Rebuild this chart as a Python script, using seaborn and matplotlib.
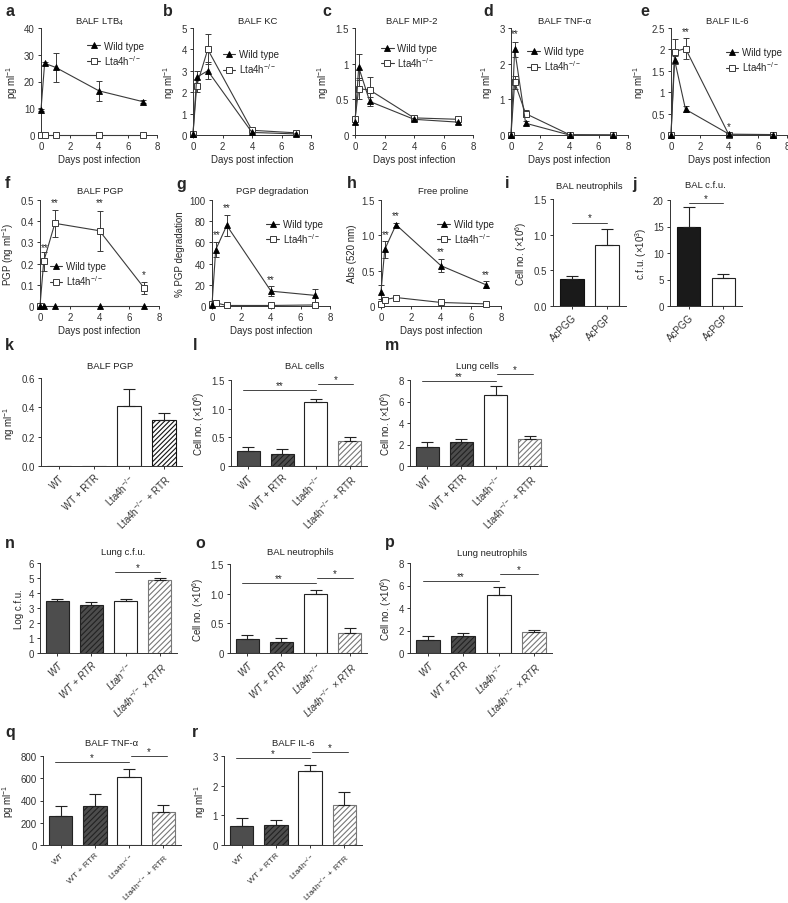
import matplotlib

matplotlib.use("Agg")
import matplotlib.pyplot as plt
import numpy as np
import pandas as pd
import seaborn as sns

W, H = 788, 904

# ---- time course data (days post infection) ----
days = [0, 0.25, 1, 4, 7]

ltb4_wt = [9.5, 26.8, 25.3, 16.5, 12.5]
ltb4_wt_err = [0.4, 0.5, 5.3, 3.8, 0.4]
ltb4_ko = [0, 0, 0, 0, 0]
ltb4_ko_err = [0, 0, 0, 0, 0]

kc_wt = [0.05, 2.7, 3.0, 0.12, 0.05]
kc_wt_err = [0.02, 0.3, 0.4, 0.05, 0.05]
kc_ko = [0.05, 2.3, 4.0, 0.22, 0.1]
kc_ko_err = [0.02, 0.3, 0.7, 0.05, 0.05]

mip2_wt = [0.18, 0.95, 0.47, 0.22, 0.18]
mip2_wt_err = [0.02, 0.18, 0.06, 0.02, 0.02]
mip2_ko = [0.22, 0.65, 0.63, 0.24, 0.22]
mip2_ko_err = [0.02, 0.15, 0.18, 0.02, 0.02]

tnf_wt = [0.0, 2.4, 0.33, 0.0, 0.0]
tnf_wt_err = [0.01, 0.2, 0.05, 0.01, 0.01]
tnf_ko = [0.0, 1.48, 0.6, 0.01, 0.0]
tnf_ko_err = [0.01, 0.18, 0.1, 0.01, 0.01]

il6_wt = [0.0, 1.75, 0.6, 0.02, 0.01]
il6_wt_err = [0.01, 0.1, 0.07, 0.01, 0.01]
il6_ko = [0.0, 1.95, 2.02, 0.0, 0.01]
il6_ko_err = [0.01, 0.3, 0.25, 0.01, 0.01]

pgp_wt = [0, 0, 0, 0, 0]
pgp_wt_err = [0, 0, 0, 0, 0]
pgp_ko = [0, 0.21, 0.39, 0.355, 0.085]
pgp_ko_err = [0, 0.045, 0.065, 0.095, 0.03]

deg_wt = [1, 53, 76, 14, 10]
deg_wt_err = [0.5, 7, 10, 5, 6]
deg_ko = [2, 3, 0.5, 0.5, 1]
deg_ko_err = [1, 1, 0.5, 0.5, 2]

pro_wt = [0.2, 0.8, 1.15, 0.57, 0.3]
pro_wt_err = [0.1, 0.12, 0.03, 0.09, 0.05]
pro_ko = [0.03, 0.09, 0.12, 0.05, 0.03]
pro_ko_err = [0.02, 0.02, 0.02, 0.02, 0.02]

# ---- peptide bar data ----
pep_groups = ["AcPGG", "AcPGP"]
pep_neut = [0.38, 0.85]
pep_neut_err = [0.04, 0.23]
pep_cfu = [15.0, 5.3]
pep_cfu_err = [3.7, 0.8]

# ---- RTR bar data ----
rtr_keys = ["WT", "WT+RTR", "KO", "KO+RTR"]
rtr_labels = ["WT", "WT + RTR", "Lta4h$^{-/-}$", "Lta4h$^{-/-}$ + RTR"]
rtr_labels_n = ["WT", "WT + RTR", "Ltah$^{-/-}$", "Lta4h$^{-/-}$ \u00d7 RTR"]
rtr_labels_p = ["WT", "WT + RTR", "Lta4h$^{-/-}$", "Lta4h$^{-/-}$ \u00d7 RTR"]

k_pgp = [0, 0, 0.41, 0.315]
k_pgp_err = [0, 0, 0.115, 0.045]
l_bal = [0.27, 0.21, 1.11, 0.43]
l_bal_err = [0.07, 0.09, 0.06, 0.08]
m_lung = [1.8, 2.2, 6.6, 2.55]
m_lung_err = [0.4, 0.3, 0.8, 0.25]
n_cfu = [3.48, 3.22, 3.5, 4.85]
n_cfu_err = [0.12, 0.15, 0.07, 0.13]
o_neut = [0.23, 0.18, 1.0, 0.33]
o_neut_err = [0.07, 0.08, 0.06, 0.09]
p_neut = [1.15, 1.5, 5.2, 1.85]
p_neut_err = [0.35, 0.3, 0.7, 0.2]
q_tnf = [265, 355, 610, 300]
q_tnf_err = [85, 105, 70, 60]
r_il6 = [0.65, 0.68, 2.48, 1.35]
r_il6_err = [0.25, 0.17, 0.2, 0.43]

LINE = "#3a3a3a"
DARK = "#4d4d4d"

sns.set_style("ticks")
plt.rcParams["font.family"] = ["Liberation Sans", "DejaVu Sans"]
plt.rcParams["mathtext.default"] = "regular"
plt.rcParams["hatch.linewidth"] = 0.8
plt.rcParams["axes.linewidth"] = 0.7
plt.rcParams["axes.edgecolor"] = "#333333"
plt.rcParams["xtick.major.width"] = 0.7
plt.rcParams["ytick.major.width"] = 0.7
plt.rcParams["xtick.major.size"] = 2.5
plt.rcParams["ytick.major.size"] = 2.5
plt.rcParams["xtick.major.pad"] = 2
plt.rcParams["ytick.major.pad"] = 2
plt.rcParams["xtick.color"] = "#333333"
plt.rcParams["ytick.color"] = "#333333"

fig = plt.figure(figsize=(W / 100, H / 100), dpi=100)


def rect(x0, y0, x1, y1):
    return [x0 / W, 1 - y1 / H, (x1 - x0) / W, (y1 - y0) / H]


def letter(x, y, s):
    fig.text(x / W, 1 - y / H, s, fontsize=11.5, fontweight="bold", va="center", ha="left")


def title(x, y, s, size=6.8):
    fig.text(x / W, 1 - y / H, s, fontsize=size, va="center", ha="center", color="#222222")


def style_axis(ax, ylim, yticks, yticklabels, ylabel):
    ax.set_ylim(*ylim)
    ax.set_yticks(yticks)
    ax.set_yticklabels(yticklabels, fontsize=7)
    ax.set_ylabel(ylabel, fontsize=7, labelpad=3)
    sns.despine(ax=ax)


def line_panel(box, ylabel, ylim, yticks, yticklabels, wt, wt_err, ko, ko_err, anchor, stars):
    ax = fig.add_axes(rect(*box))
    wt_df = pd.DataFrame({"day": days, "value": wt})
    ko_df = pd.DataFrame({"day": days, "value": ko})
    ax.errorbar(days, wt, yerr=wt_err, fmt="none", ecolor=LINE, elinewidth=0.7,
                capsize=2, capthick=0.7, clip_on=False, zorder=2)
    ax.errorbar(days, ko, yerr=ko_err, fmt="none", ecolor=LINE, elinewidth=0.7,
                capsize=2, capthick=0.7, clip_on=False, zorder=2)
    sns.lineplot(data=wt_df, x="day", y="value", ax=ax, color=LINE, lw=0.8,
                 marker="^", markersize=4.5, markerfacecolor="black",
                 markeredgecolor="black", markeredgewidth=0.6,
                 clip_on=False, zorder=4, label="Wild type")
    sns.lineplot(data=ko_df, x="day", y="value", ax=ax, color=LINE, lw=0.8,
                 marker="s", markersize=4, markerfacecolor="white",
                 markeredgecolor=LINE, markeredgewidth=0.7,
                 clip_on=False, zorder=3, label="Lta4h$^{-/-}$")
    ax.set_xlim(0, 8)
    ax.set_xticks([0, 2, 4, 6, 8])
    ax.set_xticklabels(["0", "2", "4", "6", "8"], fontsize=7)
    ax.set_xlabel("Days post infection", fontsize=7, labelpad=2)
    style_axis(ax, ylim, yticks, yticklabels, ylabel)
    ax.legend(loc="upper left", bbox_to_anchor=anchor, frameon=False, fontsize=7,
              handlelength=1.3, handletextpad=0.4, labelspacing=0.2,
              borderpad=0, borderaxespad=0)
    for x, y, s in stars:
        ax.text(x, y, s, ha="center", va="bottom", fontsize=7)
    return ax


def bar_panel(box, ylabel, ylim, yticks, yticklabels, keys, values, errs, styles,
              labels, xlim, width, brackets, italic=False, size=7):
    ax = fig.add_axes(rect(*box))
    palette = {k: st[0] for k, st in zip(keys, styles)}
    sns.barplot(x=keys, y=values, hue=keys, palette=palette, legend=False,
                width=width, errorbar=None, saturation=1, linewidth=0.8,
                edgecolor="#222222", ax=ax)
    for patch, st in zip(ax.patches, styles):
        patch.set_hatch(st[1])
        patch.set_edgecolor(st[2])
    idx = [i for i, e in enumerate(errs) if e > 0]
    ax.errorbar(idx, [values[i] for i in idx],
                yerr=[np.zeros(len(idx)), [errs[i] for i in idx]],
                fmt="none", ecolor="#222222", elinewidth=0.8, capsize=4, capthick=0.8)
    ax.set_xlim(*xlim)
    ax.set_xticks(range(len(keys)))
    ax.set_xticklabels(labels, rotation=45, ha="right", rotation_mode="anchor",
                       fontsize=size, fontstyle="italic" if italic else "normal")
    ax.set_xlabel("")
    style_axis(ax, ylim, yticks, yticklabels, ylabel)
    for x0, x1, y, s in brackets:
        ax.plot([x0, x1], [y, y], color="#444444", lw=0.7, clip_on=False)
        ax.text((x0 + x1) / 2, y, s, ha="center", va="bottom", fontsize=7)
    return ax


# ---- row 1 ----
line_panel((41, 29, 157, 136), "pg ml$^{-1}$", (0, 40), [0, 10, 20, 30, 40],
           ["0", "10", "20", "30", "40"], ltb4_wt, ltb4_wt_err, ltb4_ko, ltb4_ko_err,
           (0.4, 0.88), [])
line_panel((193, 29, 311, 136), "ng ml$^{-1}$", (0, 5), [0, 1, 2, 3, 4, 5],
           ["0", "1", "2", "3", "4", "5"], kc_wt, kc_wt_err, kc_ko, kc_ko_err,
           (0.25, 0.8), [])
line_panel((355, 29, 473, 136), "ng ml$^{-1}$", (0, 1.5), [0, 0.5, 1, 1.5],
           ["0", "0.5", "1", "1.5"], mip2_wt, mip2_wt_err, mip2_ko, mip2_ko_err,
           (0.22, 0.86), [])
line_panel((511, 29, 628, 136), "ng ml$^{-1}$", (0, 3), [0, 1, 2, 3],
           ["0", "1", "2", "3"], tnf_wt, tnf_wt_err, tnf_ko, tnf_ko_err,
           (0.14, 0.83), [(0.25, 2.72, "**")])
line_panel((671, 29, 787, 136), "ng ml$^{-1}$", (0, 2.5), [0, 0.5, 1, 1.5, 2, 2.5],
           ["0", "0.5", "1", "1.5", "2", "2.5"], il6_wt, il6_wt_err, il6_ko, il6_ko_err,
           (0.47, 0.82), [(1, 2.3, "**"), (4, 0.08, "*")])

# ---- row 2 ----
line_panel((40, 201, 159, 307), "PGP (ng ml$^{-1}$)", (0, 0.5), [0, 0.1, 0.2, 0.3, 0.4, 0.5],
           ["0", "0.1", "0.2", "0.3", "0.4", "0.5"], pgp_wt, pgp_wt_err, pgp_ko, pgp_ko_err,
           (0.08, 0.42), [(0.3, 0.255, "**"), (1, 0.465, "**"), (4, 0.465, "**"), (7, 0.125, "*")])
line_panel((212, 201, 330, 307), "% PGP degradation", (0, 100), [0, 20, 40, 60, 80, 100],
           ["0", "20", "40", "60", "80", "100"], deg_wt, deg_wt_err, deg_ko, deg_ko_err,
           (0.46, 0.82), [(0.3, 63, "**"), (1, 89, "**"), (4, 21, "**")])
line_panel((381, 201, 501, 307), "Abs (520 nm)", (0, 1.5), [0, 0.5, 1.0, 1.5],
           ["0", "0.5", "1.0", "1.5"], pro_wt, pro_wt_err, pro_ko, pro_ko_err,
           (0.47, 0.82), [(0.3, 0.95, "**"), (1, 1.22, "**"), (4, 0.7, "**"), (7, 0.38, "**")])

pep_styles = [("#1a1a1a", "", "#111111"), ("white", "", "#222222")]
bar_panel((553, 200, 626, 307), "Cell no. (\u00d710$^6$)", (0, 1.5), [0, 0.5, 1.0, 1.5],
          ["0.0", "0.5", "1.0", "1.5"], pep_groups, pep_neut, pep_neut_err, pep_styles,
          pep_groups, (-0.53, 1.53), 0.68, [(0, 1, 1.17, "*")])
bar_panel((670, 201, 742, 307), "c.f.u. (\u00d710$^3$)", (0, 20), [0, 5, 10, 15, 20],
          ["0", "5", "10", "15", "20"], pep_groups, pep_cfu, pep_cfu_err, pep_styles,
          pep_groups, (-0.53, 1.53), 0.68, [(0, 1, 19.5, "*")])

# ---- rows 3-5 ----
rtr_styles = [(DARK, "", "#222222"), (DARK, "//////", "#222222"),
              ("white", "", "#222222"), ("white", "//////", "#777777")]
k_styles = [(DARK, "", "#222222"), (DARK, "", "#222222"),
            ("white", "", "#222222"), ("white", "///////", "#111111")]
xl = (-0.51, 3.51)

bar_panel((41, 379, 182, 467), "ng ml$^{-1}$", (0, 0.6), [0, 0.2, 0.4, 0.6],
          ["0.0", "0.2", "0.4", "0.6"], rtr_keys, k_pgp, k_pgp_err, k_styles,
          rtr_labels, xl, 0.68, [])
bar_panel((231, 381, 367, 467), "Cell no. (\u00d710$^6$)", (0, 1.5), [0, 0.5, 1.0, 1.5],
          ["0", "0.5", "1.0", "1.5"], rtr_keys, l_bal, l_bal_err, rtr_styles,
          rtr_labels, xl, 0.68, [(-0.15, 2, 1.33, "**"), (2.05, 3.1, 1.43, "*")])
bar_panel((410, 381, 547, 467), "Cell no. (\u00d710$^6$)", (0, 8), [0, 2, 4, 6, 8],
          ["0", "2", "4", "6", "8"], rtr_keys, m_lung, m_lung_err, rtr_styles,
          rtr_labels, xl, 0.68, [(-0.15, 2, 7.9, "**"), (2.05, 3.1, 8.55, "*")])

bar_panel((40, 564, 177, 654), "Log c.f.u.", (0, 6), [0, 1, 2, 3, 4, 5, 6],
          ["0", "1", "2", "3", "4", "5", "6"], rtr_keys, n_cfu, n_cfu_err, rtr_styles,
          rtr_labels_n, xl, 0.68, [(1.7, 3.0, 5.4, "*")], italic=True)
bar_panel((230, 565, 367, 654), "Cell no. (\u00d710$^6$)", (0, 1.5), [0, 0.5, 1.0, 1.5],
          ["0", "0.5", "1.0", "1.5"], rtr_keys, o_neut, o_neut_err, rtr_styles,
          rtr_labels_p, xl, 0.68, [(-0.15, 2, 1.18, "**"), (2.05, 3.1, 1.26, "*")], italic=True)
bar_panel((410, 564, 552, 654), "Cell no. (\u00d710$^6$)", (0, 8), [0, 2, 4, 6, 8],
          ["0", "2", "4", "6", "8"], rtr_keys, p_neut, p_neut_err, rtr_styles,
          rtr_labels_p, xl, 0.68, [(-0.15, 2, 6.4, "**"), (2.05, 3.1, 7.0, "*")], italic=True)

bar_panel((43, 757, 181, 846), "pg ml$^{-1}$", (0, 800), [0, 200, 400, 600, 800],
          ["0", "200", "400", "600", "800"], rtr_keys, q_tnf, q_tnf_err, rtr_styles,
          rtr_labels, xl, 0.68, [(-0.15, 2, 746, "*"), (2.05, 3.1, 800, "*")], size=6.1)
bar_panel((224, 757, 362, 846), "ng ml$^{-1}$", (0, 3), [0, 1, 2, 3],
          ["0", "1", "2", "3"], rtr_keys, r_il6, r_il6_err, rtr_styles,
          rtr_labels, xl, 0.68, [(-0.15, 2, 2.93, "*"), (2.05, 3.1, 3.13, "*")], size=6.1)

# ---- titles ----
for x, y, s in [(100, 22, "BALF LTB$_4$"), (258, 22, "BALF KC"), (412, 22, "BALF MIP-2"),
                (565, 22, "BALF TNF-\u03b1"), (727, 22, "BALF IL-6"),
                (100, 191, "BALF PGP"), (272, 191, "PGP degradation"), (443, 191, "Free proline"),
                (589, 187, "BAL neutrophils"), (705, 186, "BAL c.f.u."),
                (110, 367, "BALF PGP"), (305, 367, "BAL cells"), (477, 367, "Lung cells"),
                (123, 553, "Lung c.f.u."), (300, 553, "BAL neutrophils"), (492, 554, "Lung neutrophils"),
                (112, 744, "BALF TNF-\u03b1"), (293, 744, "BALF IL-6")]:
    title(x, y, s)

# ---- panel letters ----
for x, y, s in [(6, 12, "a"), (163, 12, "b"), (322, 12, "c"), (483, 12, "d"), (640, 12, "e"),
                (5, 184, "f"), (176, 184, "g"), (347, 184, "h"), (505, 184, "i"), (632, 184, "j"),
                (5, 346, "k"), (193, 346, "l"), (385, 346, "m"),
                (5, 543, "n"), (195, 543, "o"), (385, 543, "p"),
                (5, 733, "q"), (192, 733, "r")]:
    letter(x, y, s)

fig.savefig("out.png", dpi=100)
